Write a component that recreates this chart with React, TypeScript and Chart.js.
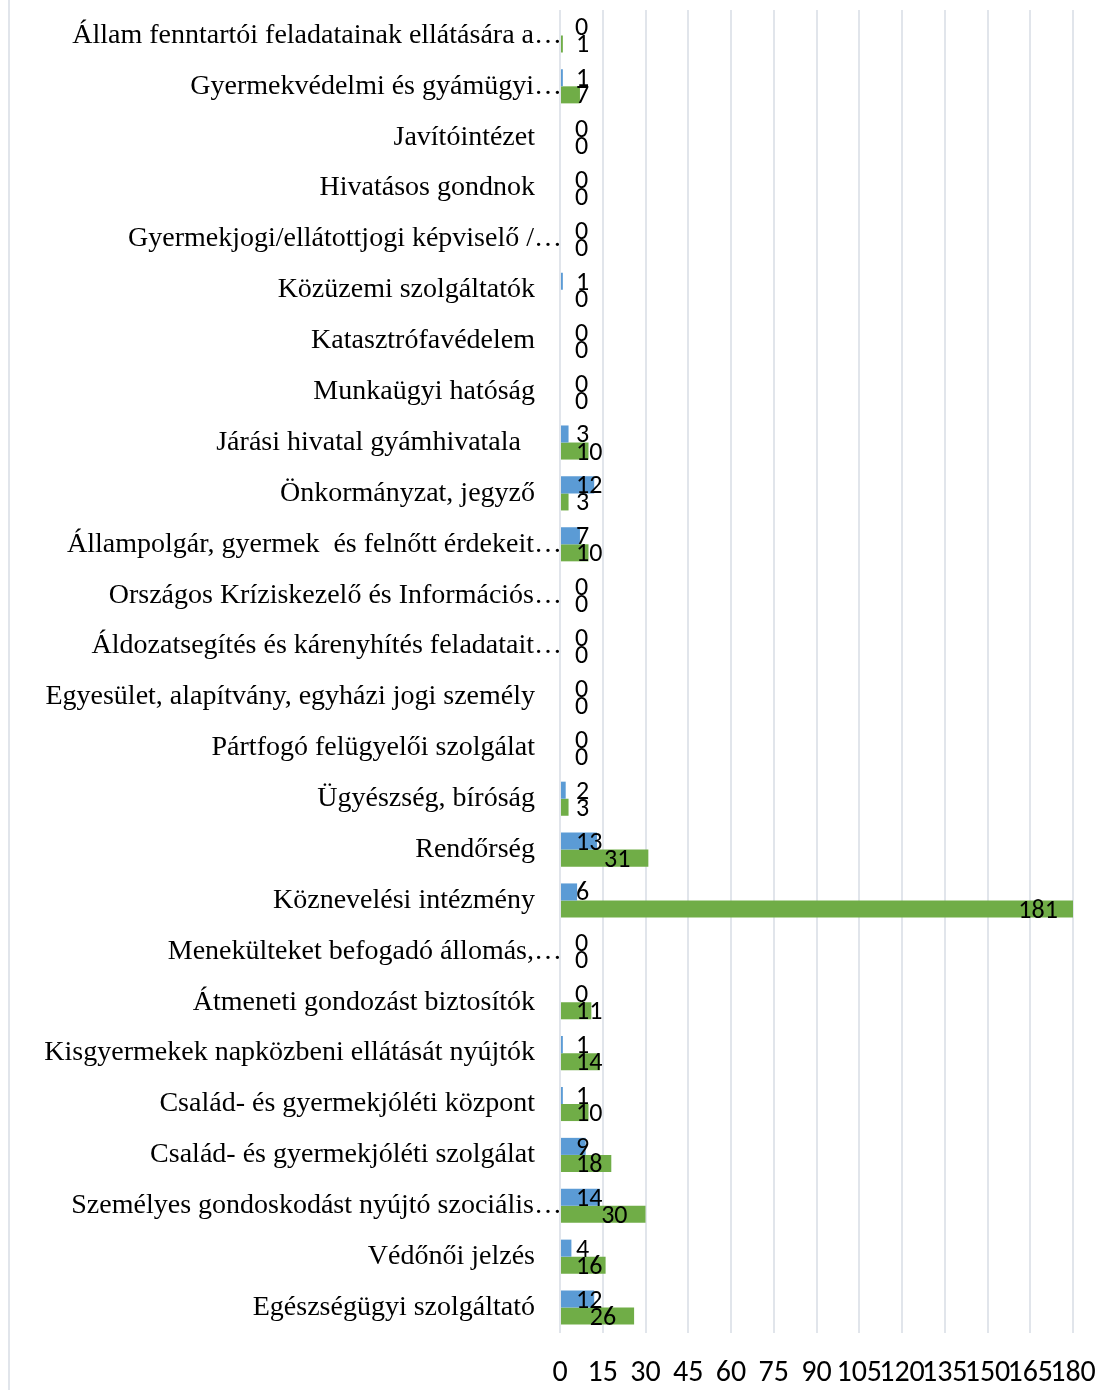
import React, { useEffect, useRef } from 'react';
import { Chart, registerables } from 'chart.js';

Chart.register(...registerables);

const categories: string[] = [
  'Állam fenntartói feladatainak ellátására a…',
  'Gyermekvédelmi és gyámügyi…',
  'Javítóintézet',
  'Hivatásos gondnok',
  'Gyermekjogi/ellátottjogi képviselő /…',
  'Közüzemi szolgáltatók',
  'Katasztrófavédelem',
  'Munkaügyi hatóság',
  'Járási hivatal gyámhivatala  ',
  'Önkormányzat, jegyző',
  'Állampolgár, gyermek  és felnőtt érdekeit…',
  'Országos Kríziskezelő és Információs…',
  'Áldozatsegítés és kárenyhítés feladatait…',
  'Egyesület, alapítvány, egyházi jogi személy',
  'Pártfogó felügyelői szolgálat',
  'Ügyészség, bíróság',
  'Rendőrség',
  'Köznevelési intézmény',
  'Menekülteket befogadó állomás,…',
  'Átmeneti gondozást biztosítók',
  'Kisgyermekek napközbeni ellátását nyújtók',
  'Család- és gyermekjóléti központ',
  'Család- és gyermekjóléti szolgálat',
  'Személyes gondoskodást nyújtó szociális…',
  'Védőnői jelzés',
  'Egészségügyi szolgáltató',
];

const blueValues: number[] = [0, 1, 0, 0, 0, 1, 0, 0, 3, 12, 7, 0, 0, 0, 0, 2, 13, 6, 0, 0, 1, 1, 9, 14, 4, 12];
const greenValues: number[] = [1, 7, 0, 0, 0, 0, 0, 0, 10, 3, 10, 0, 0, 0, 0, 3, 31, 181, 0, 11, 14, 10, 18, 30, 16, 26];

const xMin = 0;
const xMax = 180;
const xStep = 15;

const BLUE = '#5B9BD5';
const GREEN = '#70AD47';
const GRID = '#E1E5EB';
const CAT_FONT = "28px 'Liberation Serif', 'Times New Roman', serif";
const VAL_FONT = "26px Carlito, Calibri, 'Liberation Sans', sans-serif";

const overlayPlugin = {
  id: 'overlay',
  afterDraw(chart: any) {
    const ctx = chart.ctx as CanvasRenderingContext2D;
    const yScale = chart.scales.y;
    ctx.save();
    // left border line
    ctx.strokeStyle = GRID;
    ctx.lineWidth = 2;
    ctx.beginPath();
    ctx.moveTo(9, 0);
    ctx.lineTo(9, chart.height);
    ctx.stroke();

    // category labels
    ctx.font = CAT_FONT;
    ctx.fillStyle = '#000000';
    ctx.textAlign = 'right';
    ctx.textBaseline = 'middle';
    categories.forEach((label, i) => {
      const y = yScale.getPixelForValue(i);
      const right = label.endsWith('…') ? 562 : 535;
      ctx.fillText(label, right, y);
    });

    // value labels
    ctx.font = VAL_FONT;
    ctx.textAlign = 'left';
    chart.data.datasets.forEach((ds: any, d: number) => {
      const meta = chart.getDatasetMeta(d);
      meta.data.forEach((el: any, i: number) => {
        const txt = String(ds.data[i]);
        const w = ctx.measureText(txt).width;
        const base = el.base;
        const left = Math.max(base + 15, el.x - 18 - w);
        ctx.fillText(txt, left, el.y + 2);
      });
    });
    ctx.restore();
  },
};

export default function App() {
  const canvasRef = useRef<HTMLCanvasElement | null>(null);

  useEffect(() => {
    if (!canvasRef.current) return;
    const chart = new Chart(canvasRef.current, {
      type: 'bar',
      data: {
        labels: categories,
        datasets: [
          {
            label: 'A',
            data: blueValues,
            backgroundColor: BLUE,
            categoryPercentage: 0.67,
            barPercentage: 1,
          },
          {
            label: 'B',
            data: greenValues,
            backgroundColor: GREEN,
            categoryPercentage: 0.67,
            barPercentage: 1,
          },
        ],
      },
      options: {
        indexAxis: 'y',
        animation: false,
        responsive: false,
        devicePixelRatio: 1,
        layout: { padding: { left: 560, right: 33, top: 10, bottom: 0 } },
        plugins: {
          legend: { display: false },
          tooltip: { enabled: false },
        },
        scales: {
          y: {
            display: false,
          },
          x: {
            min: xMin,
            max: xMax,
            grid: { color: GRID, lineWidth: 2, drawTicks: false },
            border: { display: false },
            ticks: {
              stepSize: xStep,
              autoSkip: false,
              maxRotation: 0,
              padding: 22,
              color: '#000000',
              font: { family: "Carlito, Calibri, 'Liberation Sans', sans-serif", size: 30 },
            },
            afterFit: (s: any) => {
              s.height = 57;
              s.paddingLeft = 0;
              s.paddingRight = 0;
            },
          },
        },
      },
      plugins: [overlayPlugin],
    });
    return () => chart.destroy();
  }, []);

  return (
    <div style={{ position: 'absolute', left: 0, top: 0, width: 1106, height: 1390, background: '#ffffff' }}>
      <canvas ref={canvasRef} width={1106} height={1390} style={{ display: 'block' }} />
    </div>
  );
}
